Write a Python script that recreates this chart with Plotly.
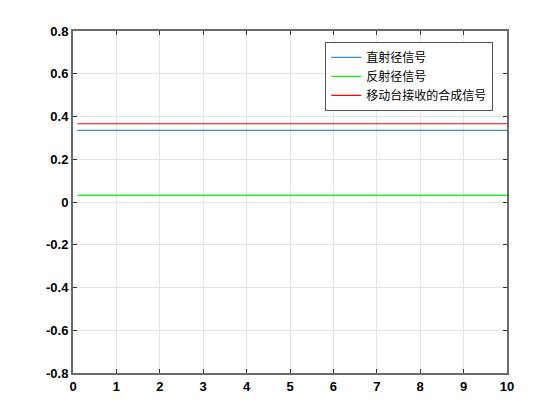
import plotly.graph_objects as go

t = [0.1, 10]
direct = [0.335, 0.335]
reflect = [0.031, 0.031]
combined = [0.366, 0.366]
names = ["直射径信号", "反射径信号", "移动台接收的合成信号"]
colors = ["#3a8ccc", "#00ff00", "#ff0000"]

fig = go.Figure()
for y, n, c in zip([direct, reflect, combined], names, colors):
    fig.add_trace(go.Scatter(x=t, y=y, mode="lines", name=n, line=dict(color=c, width=1.2)))

axis_common = dict(
    showline=True, linecolor="#6a6a6a", linewidth=2, mirror="ticks",
    ticks="inside", ticklen=4, tickcolor="#333333", tickwidth=1,
    showgrid=True, gridcolor="#e3e3e3", gridwidth=1, zeroline=False,
    tickfont=dict(family="Liberation Sans", size=13, color="#000000", weight="bold"),
)

fig.update_layout(
    width=560, height=420,
    margin=dict(l=65, r=61, t=23, b=55),
    paper_bgcolor="white", plot_bgcolor="white",
    xaxis=dict(range=[0, 10], tickvals=list(range(0, 11)), **axis_common),
    yaxis=dict(range=[-0.8, 0.8], tickvals=[-0.8, -0.6, -0.4, -0.2, 0, 0.2, 0.4, 0.6, 0.8],
               ticktext=["-0.8", "-0.6", "-0.4", "-0.2", "0", "0.2", "0.4", "0.6", "0.8"], **axis_common),
    legend=dict(x=0.581, y=0.968, xanchor="left", yanchor="top",
                bgcolor="white", bordercolor="#555555", borderwidth=1,
                font=dict(family="Noto Sans CJK SC", size=12, color="#000000"),
                tracegroupgap=0),
    showlegend=True,
)

fig.write_html("out.html")
